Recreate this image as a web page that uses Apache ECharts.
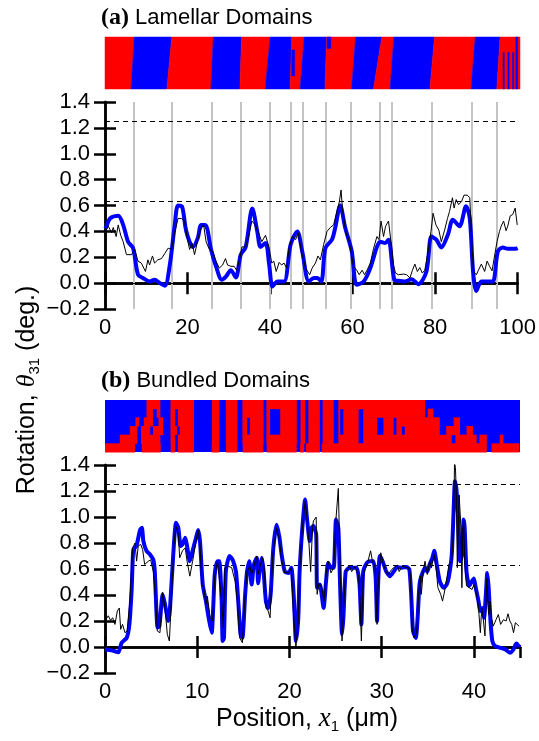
<!DOCTYPE html>
<html lang="en">
  <head>
    <meta charset="UTF-8" />
    <title>Rotation profiles</title>
    <style>
      html, body { margin: 0; padding: 0; background: #fff; }
      #chart { width: 539px; height: 741px; }
    </style>
  </head>
  <body>
    <div id="chart"></div>
    <script src="https://cdn.jsdelivr.net/npm/echarts@6/dist/echarts.min.js"></script>
    <script>
      // (a) lamellar: smoothed (blue) and raw (black) rotation, x in um
      const aSmooth = [[0,0.42],[0.24,0.43],[1.2,0.5],[3.2,0.52],[4.4,0.45],[5.6,0.32],[6.8,0.27],[8,0.065],[9.2,0.04],[10.8,0.013],[12,0.026],[13.3,0],[14.5,-0.02],[15.7,0.14],[16.9,0.45],[17.7,0.6],[18.7,0.59],[19.7,0.4],[21.3,0.28],[22.5,0.35],[23.3,0.45],[24.3,0.45],[25.7,0.26],[26.9,0.13],[28.3,0.026],[29.3,0.05],[30.5,0.1],[31.7,0.044],[32.9,0.22],[34.1,0.28],[35.7,0.576],[36.9,0.4],[37.7,0.28],[38.9,0.31],[39.8,0.14],[40.6,-0.026],[41.8,0.013],[43.4,0.013],[45,0.3],[46.6,0.4],[47.8,0.245],[49.4,0.013],[50.6,0.04],[51.4,0.04],[52.4,0.013],[53.4,0.27],[55,0.336],[55.8,0.43],[57,0.6],[58.2,0.43],[59.8,0.245],[61,-0.013],[62.7,0.013],[64.3,0.116],[65.9,0.28],[66.7,0.32],[67.9,0.31],[68.7,0.336],[70.1,0.026],[71.1,0.018],[72.7,0.013],[74.3,0.03],[75.9,-0.008],[77.9,0.09],[79.1,0.36],[80.3,0.336],[81.5,0.276],[83.1,0.375],[84.3,0.49],[85.9,0.44],[87.5,0.594],[88.4,0.5],[89.2,0.09],[90,-0.06],[91.2,0.013],[92.8,0.013],[94,0.013],[95.2,0.245],[96.4,0.276],[97.6,0.266],[99.6,0.266],[100,0.27]];
      const aRaw = [[0,0.4],[0.24,0.41],[0.8,0.44],[1.6,0.39],[2,0.43],[2.7,0.36],[3.2,0.45],[3.8,0.37],[4.4,0.32],[5.2,0.22],[6.4,0.22],[7.2,0.26],[8,0.17],[8.8,0.155],[9.2,0.17],[9.8,0.09],[10.4,0.18],[10.8,0.14],[11.5,0.21],[12,0.155],[12.8,0.18],[13.7,0.19],[14.5,0.23],[15.3,0.27],[16.1,0.26],[16.9,0.39],[17.7,0.5],[18.5,0.5],[19.3,0.48],[19.8,0.37],[20.5,0.26],[21.1,0.31],[21.7,0.22],[22.5,0.336],[23.1,0.41],[23.9,0.45],[24.5,0.32],[25.3,0.26],[26.1,0.245],[26.9,0.17],[27.7,0.116],[28.5,0.14],[29.2,0.19],[29.7,0.14],[30.5,0.13],[31.3,0.13],[31.9,0.1],[32.5,0.17],[33.2,0.28],[34.1,0.28],[34.8,0.36],[35.6,0.48],[36.4,0.45],[37.2,0.39],[38,0.32],[38.9,0.37],[39.8,0.27],[40.4,0.155],[40.9,0.17],[41.5,0.09],[42.2,0.16],[42.8,0.14],[43.4,0.155],[44,0.116],[44.6,0.27],[45.4,0.36],[46.2,0.336],[46.8,0.39],[47.6,0.245],[48.6,0.116],[49.6,0.065],[50.2,0.116],[51,0.155],[51.6,0.21],[52.2,0.18],[53,0.3],[53.8,0.4],[54.6,0.43],[55.4,0.45],[56.2,0.555],[56.8,0.63],[57.2,0.72],[57.6,0.555],[58.4,0.39],[59.2,0.32],[60.2,0.13],[61,0.1],[61.6,0.065],[62.3,0.1],[62.9,0.065],[63.5,0.1],[64.3,0.155],[65.1,0.27],[65.9,0.36],[66.4,0.336],[66.9,0.48],[67.5,0.36],[68,0.44],[68.7,0.48],[69.3,0.32],[69.9,0.14],[70.4,0.078],[71.1,0.065],[72.3,0.07],[73.1,0.065],[73.9,0.04],[74.5,0.1],[75.1,0.147],[75.7,0.09],[76.3,0.12],[76.9,0.078],[77.5,0.1],[78.3,0.245],[79,0.4],[79.5,0.54],[80.2,0.45],[80.9,0.41],[81.5,0.32],[82.3,0.41],[83,0.5],[83.5,0.555],[84.2,0.66],[84.6,0.58],[85.1,0.646],[85.7,0.607],[86.4,0.63],[87,0.68],[87.8,0.68],[88.4,0.66],[88.8,0.375],[89.3,0.09],[90,0.065],[90.5,0.1],[91.2,0.147],[92,0.09],[92.6,0.17],[93.2,0.13],[93.8,0.095],[94.4,0.21],[95,0.32],[95.6,0.4],[96,0.44],[96.6,0.48],[97.2,0.405],[97.6,0.44],[98.2,0.52],[98.8,0.53],[99.4,0.58],[99.9,0.45]];
      // domain walls (gray lines) and the slanted walls of the strip, top / bottom edge
      const aWalls = [7.06, 16.07, 25.95, 33.0, 40.0, 45.06, 47.95, 53.57, 59.52, 66.5, 69.47, 79.1, 88.9, 94.9];
      const aWallTop = [7.07, 16.1, 26.1, 32.9, 39.8, 45.0, 48.0, 53.4, 60.4, 66.7, 69.6, 79.4, 89.2, 95.2];
      const aWallBot = [6.27, 14.9, 25.5, 32.5, 38.6, 44.6, 47.0, 53.0, 59.4, 64.7, 68.7, 78.3, 88.2, 94.4];
      // small blue bits inside red domains: [xLeft, xRight, topFrac, bottomFrac]
      const aBits = [[99.0, 99.4, 0, 1], [95.9, 96.2, 0.3, 1], [97.1, 97.4, 0.3, 1], [98.2, 98.5, 0.3, 1], [45.0, 45.7, 0.25, 0.75], [53.5, 54.4, 0, 0.22]];

      // (b) bundled
      const bSmooth = [[0,-0.02],[0.72,-0.026],[1.45,-0.04],[1.8,0.033],[2.35,0.07],[2.64,0.17],[2.9,0.455],[3.07,0.75],[3.4,0.776],[3.8,0.9],[4,0.917],[4.16,0.815],[4.5,0.74],[4.9,0.71],[5.24,0.67],[5.4,0.58],[5.7,0.15],[5.9,0.16],[6.25,0.405],[6.5,0.33],[6.87,0.2],[7.05,0.3],[7.4,0.71],[7.7,0.955],[7.95,0.917],[8.2,0.776],[8.4,0.79],[8.7,0.84],[8.9,0.776],[9.2,0.66],[9.5,0.74],[9.87,0.84],[10.1,0.9],[10.3,0.815],[10.6,0.48],[10.95,0.35],[11.3,0.2],[11.57,0.11],[11.75,0.33],[11.9,0.56],[12.2,0.66],[12.4,0.66],[12.65,0.35],[12.76,0.046],[12.9,0.07],[13.1,0.58],[13.5,0.7],[13.85,0.67],[14.2,0.58],[14.45,0.35],[14.7,0.097],[14.9,0.07],[15.2,0.405],[15.4,0.58],[15.65,0.66],[15.9,0.48],[16.15,0.635],[16.45,0.686],[16.6,0.49],[16.8,0.61],[17,0.686],[17.2,0.58],[17.45,0.35],[17.7,0.3],[17.96,0.405],[18.25,0.76],[18.6,0.94],[18.9,0.85],[19.15,0.71],[19.5,0.58],[19.9,0.57],[20.2,0.61],[20.5,0.35],[20.7,0.046],[20.96,0.225],[21.1,0.58],[21.4,0.917],[21.7,1.135],[21.9,0.99],[22.2,0.815],[22.4,0.917],[22.6,0.93],[22.9,0.866],[23,0.456],[23.3,0.48],[23.7,0.3],[23.97,0.507],[24.2,0.648],[24.5,0.61],[24.8,0.61],[25.05,0.98],[25.3,0.917],[25.5,0.456],[25.7,0.097],[25.85,0.225],[26.1,0.58],[26.5,0.61],[26.9,0.61],[27.3,0.61],[27.6,0.48],[27.8,0.174],[28,0.58],[28.4,0.648],[28.7,0.66],[29.1,0.66],[29.35,0.53],[29.5,0.2],[29.6,0.456],[29.8,0.7],[30.1,0.66],[30.5,0.58],[30.9,0.545],[31.3,0.58],[31.7,0.615],[32.2,0.61],[32.7,0.615],[33,0.597],[33.2,0.405],[33.4,0.123],[33.7,0.07],[33.9,0.225],[34.1,0.48],[34.3,0.545],[34.7,0.61],[34.95,0.58],[35.2,0.635],[35.5,0.686],[35.7,0.74],[35.97,0.635],[36.3,0.507],[36.7,0.456],[37.05,0.48],[37.3,0.545],[37.6,0.71],[37.8,1.045],[37.95,1.275],[38.1,1.22],[38.3,0.99],[38.5,0.66],[38.7,0.71],[38.9,0.98],[39,0.917],[39.2,0.58],[39.5,0.47],[39.8,0.507],[40,0.527],[40.2,0.456],[40.5,0.353],[40.7,0.277],[40.95,0.3],[41.1,0.225],[41.3,0.405],[41.45,0.57],[41.6,0.456],[41.8,0.2],[42,0.046],[42.3,0.008],[42.8,-0.005],[43.4,-0.018],[43.9,-0.044],[44.3,-0.018],[44.6,0.026],[44.9,0.013],[45,0.02]];
      const bRaw = [[0,0.2],[0.36,0.24],[0.6,0.205],[0.83,0.225],[1.08,0.174],[1.34,0.277],[1.55,0.3],[1.7,0.136],[1.9,0.174],[2.17,0.11],[2.4,0.123],[2.7,0.353],[3,0.763],[3.25,0.8],[3.43,0.66],[3.6,0.776],[3.87,0.79],[4.08,0.75],[4.3,0.635],[4.7,0.66],[4.95,0.67],[5.24,0.58],[5.5,0.353],[5.67,0.123],[5.96,0.11],[6.25,0.42],[6.5,0.3],[6.76,0.097],[6.98,0.046],[7.23,0.405],[7.48,0.79],[7.7,0.93],[7.95,0.866],[8.1,0.686],[8.4,0.74],[8.7,0.763],[8.9,0.66],[9.2,0.545],[9.5,0.66],[9.87,0.815],[10.1,0.9],[10.3,0.79],[10.5,0.48],[10.7,0.456],[10.95,0.33],[11.1,0.39],[11.4,0.225],[11.67,0.2],[11.9,0.545],[12.2,0.66],[12.4,0.648],[12.65,0.353],[12.83,0.149],[13,0.61],[13.4,0.62],[13.74,0.61],[14.1,0.507],[14.35,0.353],[14.6,0.07],[14.9,0.033],[15.2,0.405],[15.4,0.58],[15.7,0.62],[15.9,0.558],[16.15,0.62],[16.45,0.7],[16.6,0.558],[16.8,0.62],[17.1,0.686],[17.3,0.58],[17.45,0.3],[17.7,0.277],[17.9,0.225],[18.2,0.71],[18.6,0.917],[18.9,0.827],[19.15,0.67],[19.5,0.57],[19.9,0.57],[20.2,0.61],[20.4,0.3],[20.7,0],[20.96,0.2],[21.1,0.58],[21.4,0.917],[21.7,1.12],[21.9,0.99],[22.1,0.815],[22.3,0.58],[22.5,0.917],[22.6,0.97],[22.9,1],[23,0.405],[23.2,0.49],[23.5,0.456],[23.75,0.353],[23.97,0.558],[24.2,0.66],[24.5,0.57],[24.8,0.61],[25.05,0.99],[25.3,1.22],[25.4,0.917],[25.6,0.33],[25.7,0.046],[25.9,0.33],[26.1,0.58],[26.5,0.62],[26.75,0.58],[27.1,0.62],[27.5,0.545],[27.65,0.353],[27.8,0.046],[28,0.558],[28.4,0.635],[28.55,0.67],[28.8,0.74],[29,0.66],[29.3,0.61],[29.5,0.174],[29.6,0.456],[29.9,0.725],[30.2,0.635],[30.5,0.58],[30.7,0.558],[31.1,0.597],[31.4,0.615],[31.7,0.63],[31.9,0.58],[32.2,0.62],[32.5,0.615],[32.9,0.61],[33.1,0.57],[33.3,0.149],[33.5,0.07],[33.8,0.11],[34,0.405],[34.2,0.545],[34.3,0.405],[34.5,0.58],[34.7,0.66],[34.95,0.558],[35.2,0.66],[35.4,0.61],[35.7,0.71],[35.9,0.61],[36.1,0.456],[36.4,0.405],[36.6,0.353],[36.9,0.456],[37.1,0.443],[37.3,0.635],[37.6,0.66],[37.8,0.917],[37.9,1.42],[38,1.38],[38.1,1.17],[38.2,0.61],[38.4,1.17],[38.6,0.917],[38.7,0.456],[38.8,0.917],[38.9,0.97],[39,0.66],[39.2,0.47],[39.5,0.456],[39.8,0.443],[40,0.48],[40.3,0.405],[40.5,0.3],[40.7,0.11],[40.85,0.3],[41,0.225],[41.2,0.085],[41.4,0.53],[41.6,0.25],[41.75,0.353],[41.9,0.225],[42.1,0.16],[42.4,0.21],[42.65,0.25],[42.9,0.174],[43.2,0.21],[43.5,0.2],[43.7,0.256],[43.9,0.2],[44.1,0.174],[44.3,0.11],[44.5,0.187],[44.6,0.2],[44.9,0.16]];
      // red intervals of the bundled strip, row by row from the top (background is blue)
      const bRows = [
        [[4.5,6.0],[7.1,9.65],[11.6,12.4],[13.1,14.35],[14.9,17.2],[17.5,20.8],[21.2,21.7],[22.05,23.3],[23.6,24.8],[25.3,34.7]],
        [[4.5,5.2],[5.6,6.0],[7.1,7.6],[7.9,9.65],[11.6,12.4],[13.1,14.35],[14.9,17.2],[17.5,17.9],[19.0,20.8],[21.2,21.7],[22.05,23.3],[23.6,24.8],[25.3,25.5],[25.85,27.5],[28.0,34.7],[35.0,35.6]],
        [[3.3,3.7],[4.2,5.2],[5.8,6.3],[7.1,7.6],[7.9,9.65],[11.6,12.4],[13.1,14.35],[14.9,15.4],[15.7,17.2],[17.5,17.9],[19.0,20.8],[21.2,21.7],[22.05,23.3],[23.6,24.8],[25.3,25.5],[25.85,27.5],[28.0,29.5],[30.2,31.3],[31.6,36.3],[37.8,38.5]],
        [[2.7,3.5],[3.9,4.9],[5.2,6.3],[7.1,7.8],[8.1,9.65],[11.6,12.4],[13.1,14.35],[14.9,15.4],[15.7,17.2],[17.5,17.9],[19.0,20.8],[21.2,21.7],[22.05,23.3],[23.6,24.8],[25.3,25.5],[25.85,27.5],[28.0,29.5],[30.2,31.3],[31.6,32.2],[32.5,36.3],[37.0,38.5],[39.2,39.9]],
        [[1.6,3.5],[3.9,6.0],[7.1,7.6],[7.9,9.65],[11.6,12.4],[13.1,14.35],[14.9,17.2],[17.5,20.8],[21.2,21.7],[22.05,23.3],[23.6,24.8],[25.3,27.5],[28.0,37.6],[38.0,40.3],[40.6,41.4],[42.8,43.2]],
        [[0,3.25],[3.98,6.04],[7.12,7.6],[7.9,9.65],[11.57,12.4],[13.12,14.35],[14.93,17.17],[17.53,20.78],[21.15,21.6],[21.8,23.3],[23.5,41.4],[41.9,44.93]]
      ];

      const guideLevels = [0, 0.625, 1.25];
      const red = "#ff0000";
      const blue = "#0000ff";

      const stripA = [];
      const edgeTop = [0].concat(aWallTop, [100]);
      const edgeBot = [0].concat(aWallBot, [100]);
      for (let i = 0; i < edgeTop.length - 1; i++) {
        stripA.push([edgeTop[i], edgeTop[i + 1], edgeBot[i], edgeBot[i + 1], i % 2, 0, 1]);
      }
      aBits.forEach((b) => stripA.push([b[0], b[1], b[0], b[1], 1, b[2], b[3]]));

      const stripB = [];
      bRows.forEach((row, r) => row.forEach((seg) => stripB.push([seg[0], seg[1], r])));

      const font = "Liberation Sans";
      const tickFont = { fontSize: 22, color: "#000", fontFamily: font };

      function frameAxis(extra) {
        return Object.assign(
          {
            type: "value",
            axisLine: { show: true, lineStyle: { color: "#000", width: 2.5 } },
            axisTick: { show: true, inside: true, length: 11, lineStyle: { color: "#000", width: 2.5 } },
            splitLine: { show: false },
            axisLabel: { show: false }
          },
          extra
        );
      }
      function yLeft(grid) {
        return frameAxis({
          gridIndex: grid, min: -0.2, max: 1.4, interval: 0.2, position: "left",
          axisLabel: Object.assign({ show: true, margin: 15, formatter: (v) => v.toFixed(1).replace("-", "\u2212") }, tickFont)
        });
      }
      function yRight(grid) {
        return frameAxis({ gridIndex: grid, min: -0.2, max: 1.4, interval: 0.2, position: "right" });
      }

      const chart = echarts.init(document.getElementById("chart"), null, { renderer: "canvas" });
      const option = {
        animation: false,
        backgroundColor: "#fff",
        grid: [
          { left: 105, top: 37, width: 415, height: 52 },
          { left: 105, top: 102, width: 415, height: 207 },
          { left: 105, top: 400, width: 415, height: 52, show: true, backgroundColor: blue, borderWidth: 0 },
          { left: 105, top: 465, width: 415, height: 208 }
        ],
        xAxis: [
          { type: "value", gridIndex: 0, min: 0, max: 100, show: false },
          frameAxis({ gridIndex: 1, min: 0, max: 100, interval: 20, position: "bottom",
            axisLabel: Object.assign({ show: true, margin: 8 }, tickFont) }),
          frameAxis({ gridIndex: 1, min: 0, max: 100, interval: 20, position: "top" }),
          { type: "value", gridIndex: 2, min: 0, max: 45, show: false },
          frameAxis({ gridIndex: 3, min: 0, max: 45, interval: 10, position: "bottom",
            axisLabel: Object.assign({ show: true, margin: 8, showMaxLabel: false }, tickFont) }),
          frameAxis({ gridIndex: 3, min: 0, max: 45, interval: 10, position: "top" })
        ],
        yAxis: [
          { type: "value", gridIndex: 0, min: 0, max: 1, inverse: true, show: false },
          yLeft(1),
          yRight(1),
          { type: "value", gridIndex: 2, min: 0, max: 6, inverse: true, show: false },
          yLeft(3),
          yRight(3)
        ],
        series: [
          {
            type: "custom",
            xAxisIndex: 0,
            yAxisIndex: 0,
            data: stripA,
            renderItem: (params, api) => {
              const y0 = api.value(5);
              const y1 = api.value(6);
              return {
                type: "polygon",
                shape: {
                  points: [
                    api.coord([api.value(0), y0]),
                    api.coord([api.value(1), y0]),
                    api.coord([api.value(3), y1]),
                    api.coord([api.value(2), y1])
                  ]
                },
                style: { fill: api.value(4) ? blue : red, stroke: api.value(4) ? blue : red, lineWidth: 0.5 }
              };
            }
          },
          {
            type: "custom",
            xAxisIndex: 3,
            yAxisIndex: 3,
            data: stripB,
            renderItem: (params, api) => {
              const p0 = api.coord([api.value(0), api.value(2)]);
              const p1 = api.coord([api.value(1), api.value(2) + 1]);
              return {
                type: "rect",
                shape: { x: p0[0], y: p0[1], width: p1[0] - p0[0], height: p1[1] - p0[1] + 0.5 },
                style: { fill: red }
              };
            }
          },
          {
            name: "guides a",
            type: "line",
            xAxisIndex: 1,
            yAxisIndex: 1,
            data: [],
            markLine: {
              silent: true,
              symbol: "none",
              label: { show: false },
              data: aWalls
                .map((x) => ({ xAxis: x, lineStyle: { color: "#c4c4c4", width: 2, type: "solid" } }))
                .concat(guideLevels.map((y) => ({ yAxis: y, lineStyle: { color: "#000", width: 1, type: [5, 4] } })))
            }
          },
          {
            name: "a smooth",
            type: "line",
            xAxisIndex: 1,
            yAxisIndex: 1,
            z: 10,
            data: aSmooth,
            smooth: 0.3,
            showSymbol: false,
            lineStyle: { color: blue, width: 4 }
          },
          {
            name: "a raw",
            type: "line",
            xAxisIndex: 1,
            yAxisIndex: 1,
            z: 11,
            data: aRaw,
            showSymbol: false,
            lineStyle: { color: "#000", width: 1 }
          },
          {
            name: "guides b",
            type: "line",
            xAxisIndex: 4,
            yAxisIndex: 4,
            data: [],
            markLine: {
              silent: true,
              symbol: "none",
              label: { show: false },
              data: guideLevels.map((y) => ({ yAxis: y, lineStyle: { color: "#000", width: 1, type: [5, 4] } }))
            }
          },
          {
            name: "b smooth",
            type: "line",
            xAxisIndex: 4,
            yAxisIndex: 4,
            z: 10,
            data: bSmooth,
            smooth: 0.2,
            showSymbol: false,
            lineStyle: { color: blue, width: 4 }
          },
          {
            name: "b raw",
            type: "line",
            xAxisIndex: 4,
            yAxisIndex: 4,
            z: 11,
            data: bRaw,
            showSymbol: false,
            lineStyle: { color: "#000", width: 1 }
          }
        ],
        graphic: [
          {
            type: "text", x: 101, y: 18,
            style: {
              text: "{b|(a)}{n| Lamellar Domains}", verticalAlign: "middle",
              rich: {
                b: { fontFamily: "Liberation Serif", fontWeight: "bold", fontSize: 24, fill: "#000" },
                n: { fontFamily: font, fontSize: 22, fill: "#000" }
              }
            }
          },
          {
            type: "text", x: 101, y: 381,
            style: {
              text: "{b|(b)}{n| Bundled Domains}", verticalAlign: "middle",
              rich: {
                b: { fontFamily: "Liberation Serif", fontWeight: "bold", fontSize: 24, fill: "#000" },
                n: { fontFamily: font, fontSize: 22, fill: "#000" }
              }
            }
          },
          {
            type: "text", x: 27, y: 390, rotation: Math.PI / 2,
            style: {
              text: "{n|Rotation, }{i|θ}{s|31}{n| (deg.)}", align: "center", verticalAlign: "middle",
              rich: {
                n: { fontFamily: font, fontSize: 25, lineHeight: 30, fill: "#000" },
                i: { fontFamily: "Liberation Serif", fontStyle: "italic", fontSize: 26, lineHeight: 30, fill: "#000" },
                s: { fontFamily: font, fontSize: 15, lineHeight: 16, verticalAlign: "bottom", fill: "#000" }
              }
            }
          },
          {
            type: "text", x: 307, y: 719,
            style: {
              text: "{n|Position, }{i|x}{s|1}{n| (μm)}", align: "center", verticalAlign: "middle",
              rich: {
                n: { fontFamily: font, fontSize: 25, lineHeight: 30, fill: "#000" },
                i: { fontFamily: "Liberation Serif", fontStyle: "italic", fontSize: 27, lineHeight: 30, fill: "#000" },
                s: { fontFamily: font, fontSize: 15, lineHeight: 16, verticalAlign: "bottom", fill: "#000" }
              }
            }
          }
        ]
      };
      chart.setOption(option);
    </script>
  </body>
</html>
